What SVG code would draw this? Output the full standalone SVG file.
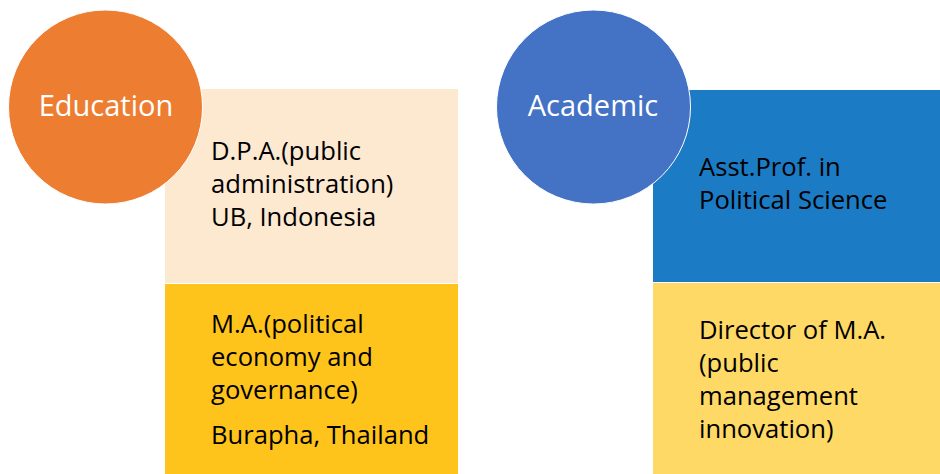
<svg xmlns="http://www.w3.org/2000/svg" width="940" height="474" viewBox="0 0 940 474">
<style>
.t{font-family:"Open Sans","Liberation Sans",sans-serif;font-size:25.6px;fill:#000}
.h{font-family:"Open Sans","Liberation Sans",sans-serif;font-size:29px;fill:#fff;text-anchor:middle}
.box{stroke:#fff;stroke-width:1}
</style>
<rect width="940" height="474" fill="#fff"/>
<g id="connectors"></g>
<g id="edu-box1">
<rect class="box" x="164.5" y="88.5" width="294" height="195" fill="#FDE8D0"/>
<text class="t" x="211" y="160">D.P.A.(public</text>
<text class="t" x="211" y="193">administration)</text>
<text class="t" x="211" y="226">UB, Indonesia</text>
</g>
<g id="edu-box2">
<rect class="box" x="164.5" y="283.5" width="294" height="191" fill="#FEC41C"/>
<text class="t" x="211" y="333">M.A.(political</text>
<text class="t" x="211" y="366">economy and</text>
<text class="t" x="211" y="399">governance)</text>
<text class="t" x="211" y="444">Burapha, Thailand</text>
</g>
<g id="education">
<circle cx="105.5" cy="107" r="97" fill="#ED7D31" stroke="#fff" stroke-width="1"/>
<text class="h" x="106" y="116">Education</text>
</g>
<g id="acad-box1">
<rect class="box" x="652.5" y="89.5" width="288" height="193" fill="#1B7BC4"/>
<text class="t" x="699" y="176">Asst.Prof. in</text>
<text class="t" x="699" y="209">Political Science</text>
</g>
<g id="acad-box2">
<rect class="box" x="652.5" y="282.5" width="288" height="192" fill="#FFD966"/>
<text class="t" x="699" y="339">Director of M.A.</text>
<text class="t" x="699" y="372">(public</text>
<text class="t" x="699" y="405">management</text>
<text class="t" x="699" y="438">innovation)</text>
</g>
<g id="academic">
<circle cx="593.5" cy="107" r="97" fill="#4472C4" stroke="#fff" stroke-width="1"/>
<text class="h" x="593" y="116">Academic</text>
</g>
</svg>
